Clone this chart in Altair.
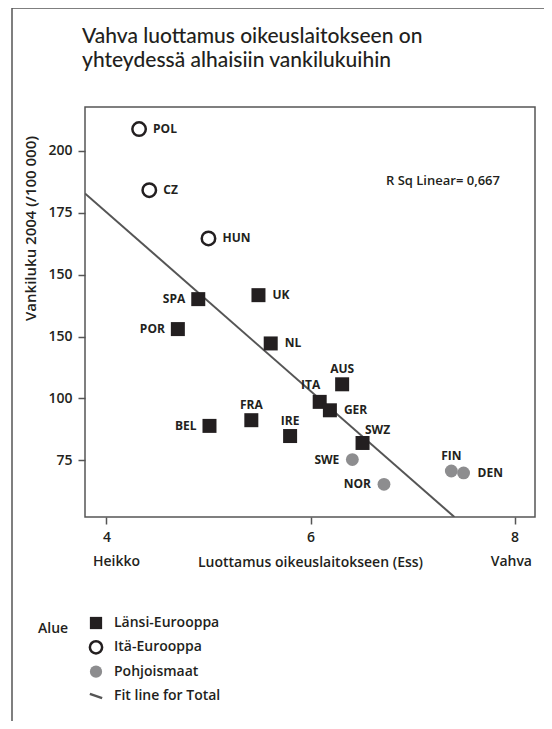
import altair as alt
import pandas as pd

# ---- data ----
countries = ["POL", "CZ", "HUN", "SPA", "UK", "POR", "NL", "AUS", "ITA",
             "GER", "FRA", "BEL", "IRE", "SWZ", "SWE", "NOR", "FIN", "DEN"]
trust = [4.32, 4.42, 5.00, 4.90, 5.49, 4.70, 5.61, 6.31, 6.09,
         6.19, 5.42, 5.01, 5.80, 6.51, 6.41, 6.72, 7.38, 7.50]
prisoners = [208.8, 184.1, 164.6, 140.1, 141.7, 128.0, 122.2, 105.7, 98.6,
             95.2, 91.2, 88.9, 84.8, 82.0, 75.3, 65.3, 70.7, 69.9]
region = (["Itä-Eurooppa"] * 3 + ["Länsi-Eurooppa"] * 11 + ["Pohjoismaat"] * 4)
label_side = ["r", "r", "r", "l", "r", "l", "r", "t", "tl",
              "r", "t", "l", "t", "tr", "l", "l", "t", "r"]

fit_trust = [3.79, 7.41]
fit_prisoners = [182.8, 52.1]

legend_items = ["Länsi-Eurooppa", "Itä-Eurooppa", "Pohjoismaat", "Fit line for Total"]
y_ticks = [75, 100, 125, 150, 175, 200]
x_ticks = [4, 6, 8]
title_lines = ["Vahva luottamus oikeuslaitokseen on", "yhteydessä alhaisiin vankilukuihin"]

# ---- styling ----
TFONT = "Lato"
FONT = "Open Sans"
INK = "#231f20"
LINE = "#555555"
GREY = "#8d8d8f"
W = 600

df = pd.DataFrame({"country": countries, "trust": trust, "prisoners": prisoners,
                   "Alue": region, "side": label_side})
fit_df = pd.DataFrame({"trust": fit_trust, "prisoners": fit_prisoners})
legend_df = pd.DataFrame({"Alue": legend_items})

xscale = alt.Scale(domain=[3.79, 8.2], nice=False, zero=False)
yscale = alt.Scale(domain=[52.1, 217.7], nice=False, zero=False)

x_enc = alt.X("trust:Q", scale=xscale,
              axis=alt.Axis(values=x_ticks, format="d",
                            title="Luottamus  oikeuslaitokseen (Ess)",
                            titleY=45, titleBaseline="middle"))
y_enc = alt.Y("prisoners:Q", scale=yscale,
              axis=alt.Axis(values=y_ticks,
                            labelExpr="datum.value == 125 ? '150' : datum.label",
                            title="Vankiluku 2004 (/100 000)", titleFontSize=15,
                            titleX=-55, titleY=121, titleAngle=-90,
                            titleBaseline="middle", titleAlign="center"))

shape_enc = alt.Shape("Alue:N", scale=alt.Scale(domain=legend_items,
                      range=["square", "circle", "circle", "M-1,-0.35L1,0.35"]), legend=None)
fill_enc = alt.Fill("Alue:N", scale=alt.Scale(domain=legend_items,
                    range=[INK, "white", GREY, "transparent"]), legend=None)
stroke_enc = alt.Stroke("Alue:N", scale=alt.Scale(domain=legend_items,
                        range=["transparent", INK, "transparent", LINE]), legend=None)
size_enc = alt.Size("Alue:N", scale=alt.Scale(domain=legend_items,
                    range=[196, 150, 150, 150]), legend=None)

points = alt.Chart(df).mark_point(opacity=1, strokeWidth=2.5).encode(
    x=x_enc, y=y_enc, shape=shape_enc, fill=fill_enc, stroke=stroke_enc, size=size_enc)

fit = alt.Chart(fit_df).mark_line(color=LINE, strokeWidth=2, clip=True).encode(
    x=x_enc, y=y_enc)

side_style = {
    "r": dict(align="left", dx=14, dy=0),
    "l": dict(align="right", dx=-13, dy=0),
    "t": dict(align="center", dx=0, dy=-15),
    "tl": dict(align="center", dx=-9, dy=-17),
    "tr": dict(align="center", dx=15, dy=-13),
}
label_layers = [
    alt.Chart(df).transform_filter(alt.datum.side == k).mark_text(
        baseline="middle", font=FONT, fontSize=12, fontWeight="bold",
        color=INK, **v).encode(x=x_enc, y=y_enc, text="country:N")
    for k, v in side_style.items()
]

one = alt.Data(values=[{"a": 1}])
frame_top = alt.Chart(one).mark_rule(color=LINE, strokeWidth=1.5).encode(
    x=alt.value(-73), x2=alt.value(459), y=alt.value(-99))
frame_left = alt.Chart(one).mark_rule(color=LINE, strokeWidth=1.5).encode(
    x=alt.value(-73), y=alt.value(-99), y2=alt.value(614))

title = alt.Chart(one).mark_text(text=title_lines, align="left", baseline="alphabetic",
                                 lineHeight=24, font=TFONT, fontSize=21, fontWeight=500,
                                 color=INK).encode(x=alt.value(-3), y=alt.value(-64))
txt = dict(font=FONT, fontSize=14, fontWeight=W, color=INK, baseline="middle")
heikko = alt.Chart(one).mark_text(text="Heikko", align="left", **txt).encode(
    x=alt.value(8), y=alt.value(45 + 410))
vahva = alt.Chart(one).mark_text(text="Vahva", align="right", **txt).encode(
    x=alt.value(447), y=alt.value(45 + 410))
rsq = alt.Chart(one).mark_text(text="R Sq Linear= 0,667", align="left",
                               **{**txt, "fontSize": 13}).encode(
    x=alt.value(301), y=alt.value(74))

main = alt.layer(fit, points, *label_layers, frame_top, frame_left,
                 title, heikko, vahva, rsq)

# ---- legend (drawn from the legend items through a point scale) ----
leg_y = alt.Y("Alue:N", scale=alt.Scale(domain=legend_items, range=[516, 589], padding=0),
              axis=None)
leg_symbols = alt.Chart(legend_df).mark_point(opacity=1, strokeWidth=2.5).encode(
    x=alt.value(11), y=leg_y, shape=shape_enc, fill=fill_enc, stroke=stroke_enc,
    size=alt.value(150))
leg_labels = alt.Chart(legend_df).mark_text(align="left", **txt).encode(
    x=alt.value(29), y=leg_y, text="Alue:N")
leg_title = alt.Chart(one).mark_text(text="Alue", align="left", **txt).encode(
    x=alt.value(-47), y=alt.value(522))
legend = alt.layer(leg_symbols, leg_labels, leg_title)

chart = alt.layer(main, legend).resolve_scale(y="independent").properties(
    width=450, height=410,
    autosize=alt.AutoSizeParams(type="none"),
    padding={"left": 77, "top": 99, "right": 9, "bottom": 204},
).configure_view(
    stroke=LINE, strokeWidth=1.5
).configure_axis(
    grid=False, domain=False, tickColor=LINE, tickWidth=1.5, tickSize=7,
    labelFont=FONT, labelFontSize=14, labelFontWeight=W, labelColor=INK, labelPadding=6,
    titleFont=FONT, titleFontSize=14, titleFontWeight=W, titleColor=INK,
)

chart.save("out.html", embed_options={"renderer": "svg", "actions": False})
